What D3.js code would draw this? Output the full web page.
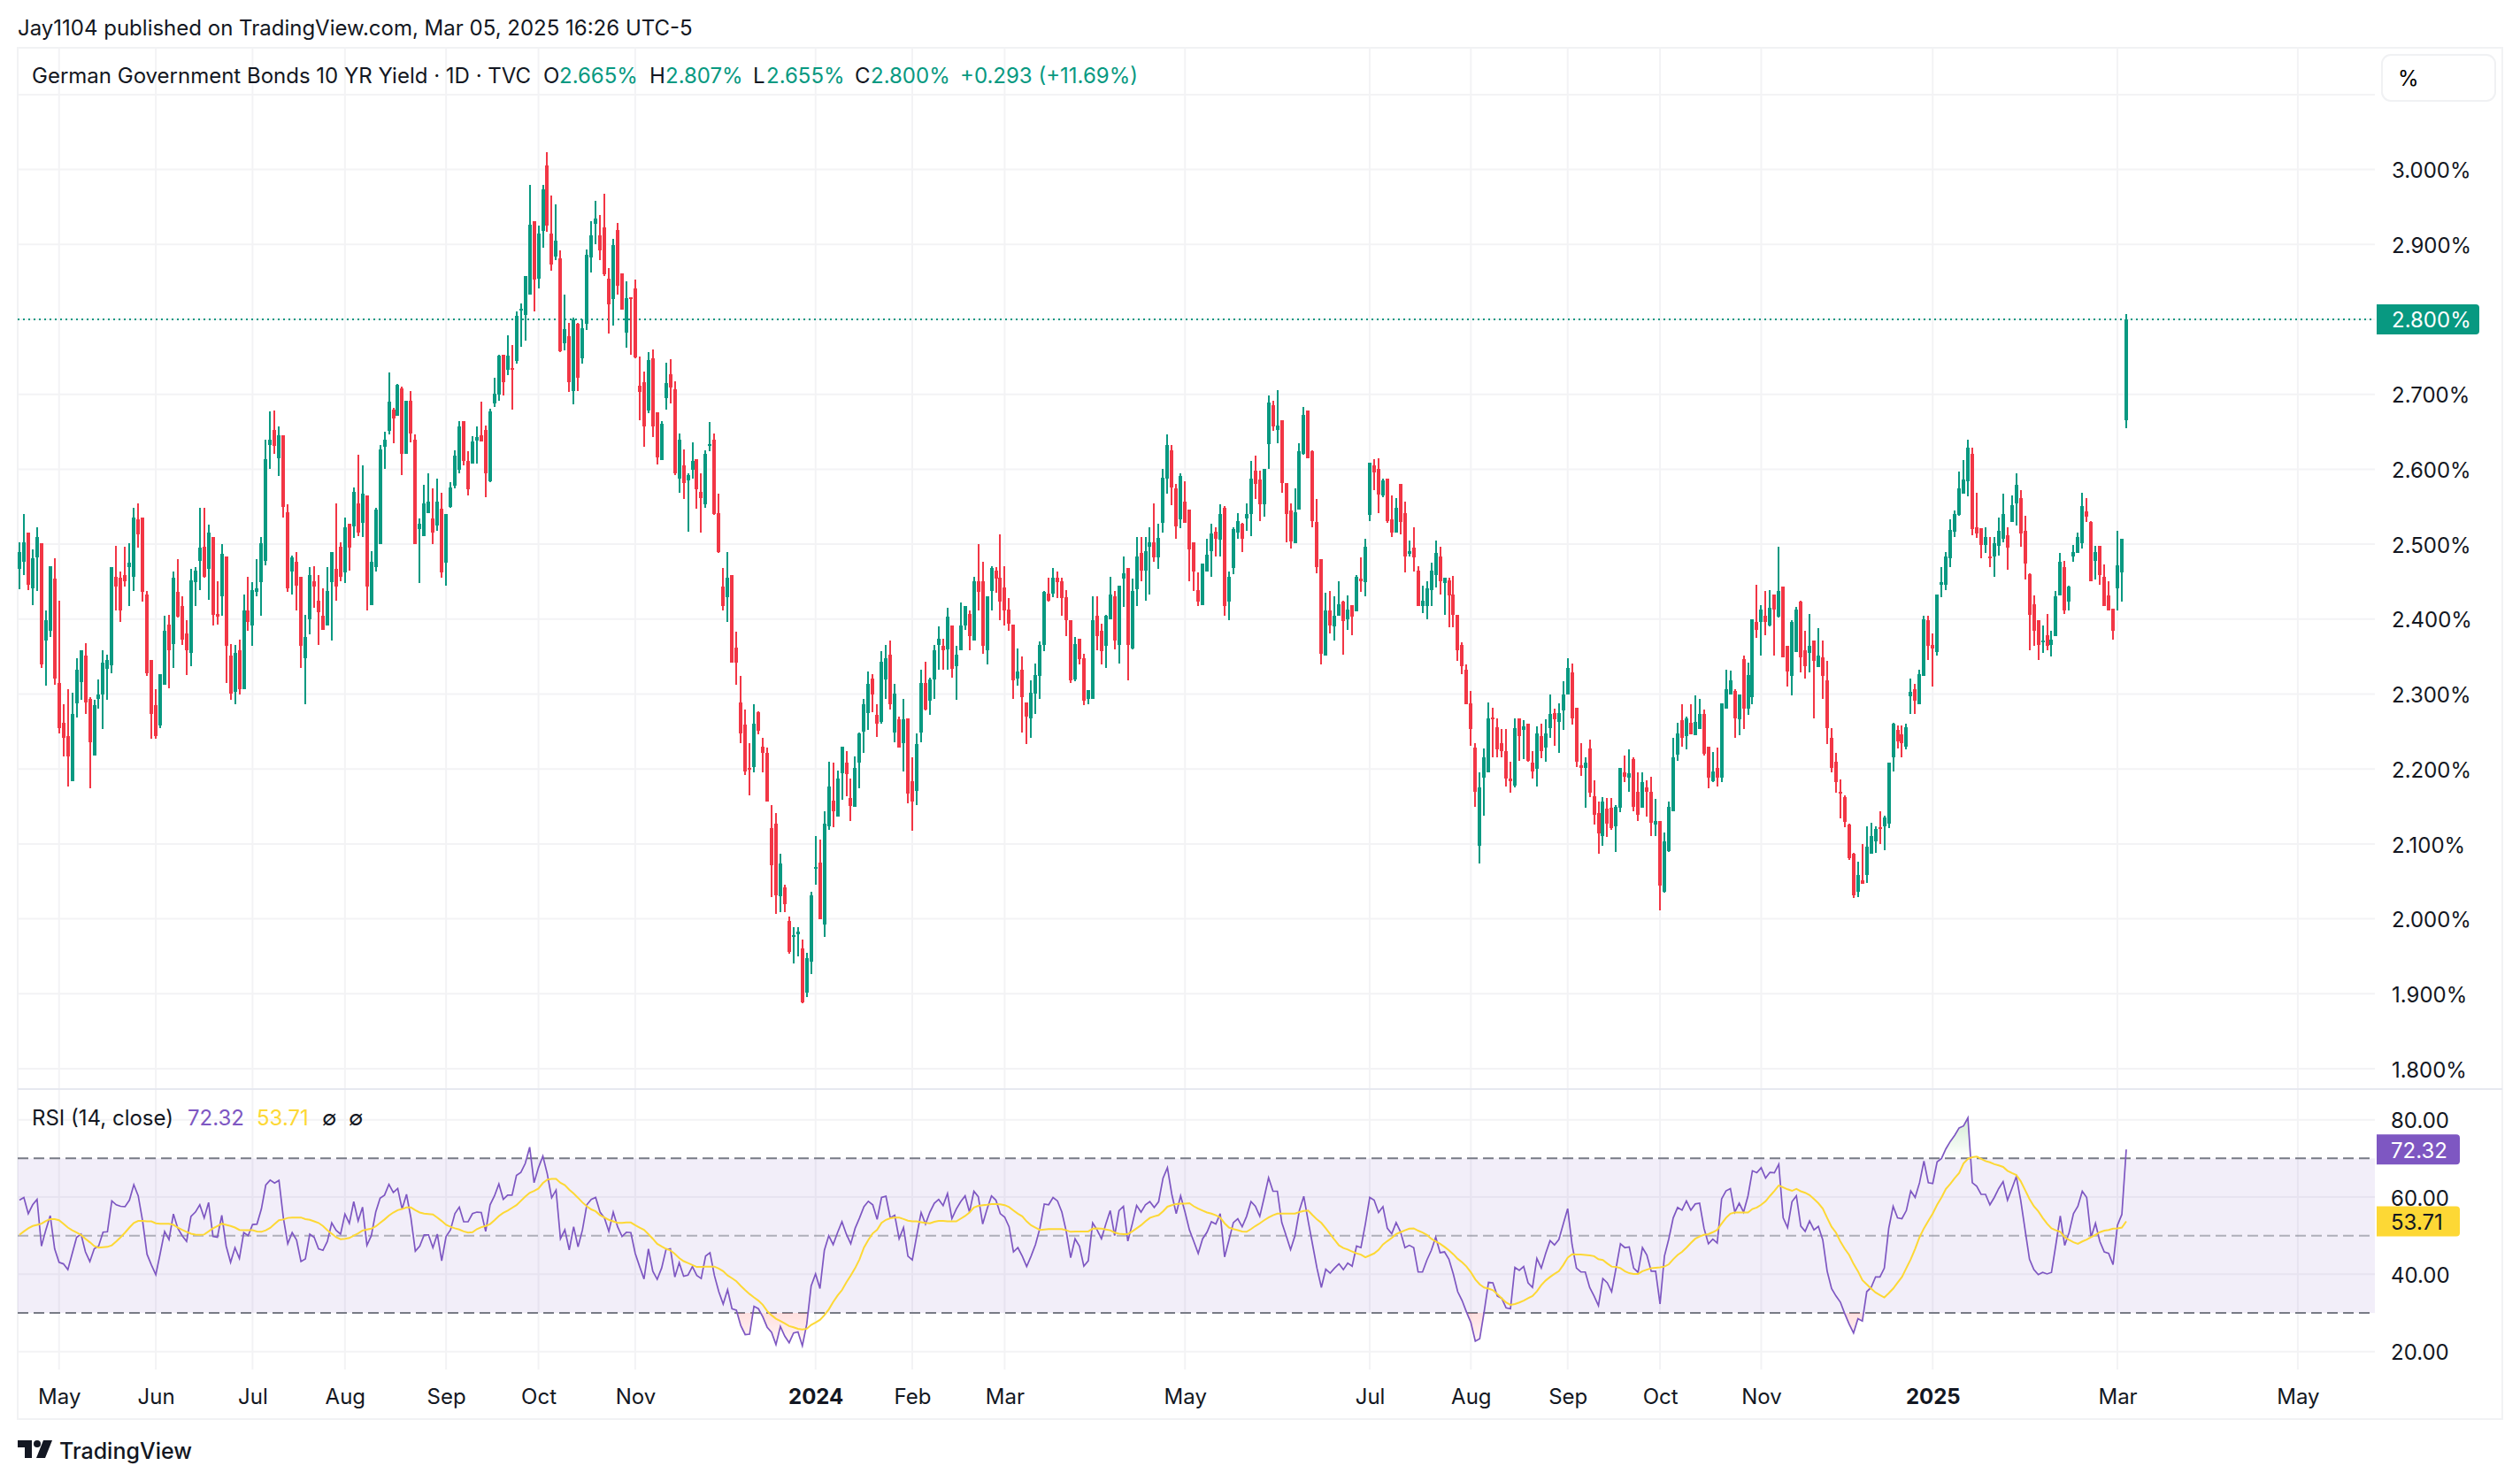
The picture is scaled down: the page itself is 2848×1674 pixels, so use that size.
<!DOCTYPE html>
<html>
<head>
<meta charset="utf-8">
<script src="https://cdn.jsdelivr.net/npm/d3@7"></script>
<style>
  html, body { margin: 0; padding: 0; background: #fff; }
  text { font-family: Inter, "Noto Sans", sans-serif; }
</style>
</head>
<body>
<div id="chart"></div>
<script>
// Datos
// =======================
var opens = [
2.467,2.477,2.515,2.441,2.482,2.501,2.371,2.384,2.454,2.315,
2.262,2.244,2.184,2.288,2.316,2.351,2.294,2.218,2.293,2.300,
2.334,2.338,2.457,2.455,2.459,2.469,2.457,2.533,2.535,2.433,
2.346,2.285,2.258,2.312,2.393,2.367,2.436,2.417,2.381,2.355,
2.449,2.478,2.497,2.467,2.509,2.407,2.430,2.483,2.351,2.303,
2.359,2.307,2.412,2.391,2.436,2.449,2.478,2.632,2.653,2.615,
2.645,2.543,2.463,2.477,2.456,2.348,2.400,2.450,2.425,2.404,
2.392,2.449,2.467,2.496,2.462,2.527,2.524,2.555,2.528,2.565,
2.419,2.469,2.500,2.630,2.651,2.680,2.671,2.708,2.620,2.691,
2.640,2.520,2.511,2.541,2.534,2.525,2.547,2.475,2.550,2.578,
2.599,2.664,2.611,2.608,2.638,2.645,2.652,2.584,2.688,2.700,
2.753,2.733,2.735,2.744,2.812,2.806,2.833,2.931,2.854,2.918,
3.006,2.915,2.884,2.881,2.768,2.778,2.704,2.794,2.748,2.794,
2.883,2.928,2.912,2.923,2.854,2.827,2.919,2.861,2.782,2.830,
2.841,2.711,2.716,2.678,2.748,2.676,2.612,2.695,2.727,2.707,
2.587,2.605,2.585,2.599,2.613,2.570,2.553,2.631,2.640,2.541,
2.444,2.429,2.459,2.362,2.289,2.259,2.201,2.203,2.276,2.230,
2.222,2.121,2.127,2.030,2.042,1.997,1.976,1.979,1.961,1.902,
1.943,2.067,2.075,1.992,2.124,2.158,2.136,2.194,2.209,2.161,
2.149,2.208,2.250,2.275,2.321,2.272,2.263,2.320,2.352,2.249,
2.266,2.234,2.268,2.184,2.171,2.249,2.315,2.291,2.319,2.365,
2.364,2.360,2.392,2.337,2.358,2.392,2.407,2.372,2.450,2.450,
2.359,2.438,2.465,2.455,2.442,2.413,2.393,2.321,2.332,2.289,
2.267,2.301,2.324,2.365,2.434,2.434,2.455,2.451,2.429,2.399,
2.319,2.374,2.348,2.293,2.293,2.405,2.384,2.364,2.400,2.431,
2.366,2.454,2.468,2.361,2.440,2.488,2.465,2.497,2.502,2.482,
2.529,2.588,2.625,2.574,2.533,2.557,2.546,2.502,2.439,2.419,
2.463,2.491,2.517,2.506,2.549,2.423,2.468,2.515,2.527,2.534,
2.540,2.598,2.586,2.553,2.633,2.686,2.652,2.665,2.581,2.545,
2.501,2.546,2.620,2.678,2.624,2.530,2.480,2.351,2.411,2.390,
2.404,2.423,2.400,2.419,2.410,2.454,2.449,2.539,2.605,2.600,
2.565,2.587,2.533,2.515,2.580,2.542,2.487,2.495,2.465,2.418,
2.418,2.439,2.459,2.484,2.448,2.452,2.433,2.406,2.365,2.333,
2.288,2.229,2.098,2.188,2.196,2.269,2.256,2.235,2.224,2.187,
2.178,2.267,2.252,2.260,2.208,2.200,2.244,2.228,2.255,2.275,
2.263,2.278,2.299,2.329,2.282,2.205,2.202,2.227,2.164,2.141,
2.111,2.147,2.148,2.123,2.148,2.196,2.189,2.213,2.170,2.148,
2.175,2.170,2.126,2.130,2.036,2.090,2.143,2.219,2.265,2.244,
2.262,2.245,2.253,2.274,2.230,2.184,2.202,2.188,2.280,2.299,
2.304,2.266,2.347,2.281,2.296,2.396,2.396,2.405,2.391,2.433,
2.403,2.444,2.364,2.324,2.356,2.423,2.358,2.355,2.371,2.336,
2.349,2.318,2.241,2.210,2.169,2.163,2.126,2.087,2.036,2.052,
2.059,2.087,2.104,2.122,2.123,2.127,2.216,2.252,2.246,2.230,
2.297,2.307,2.287,2.324,2.398,2.366,2.356,2.446,2.446,2.481,
2.517,2.539,2.568,2.584,2.621,2.523,2.521,2.499,2.484,2.483,
2.498,2.507,2.512,2.530,2.554,2.561,2.518,2.460,2.420,2.398,
2.369,2.378,2.366,2.377,2.432,2.470,2.423,2.484,2.488,2.501,
2.544,2.530,2.478,2.498,2.456,2.432,2.414,2.441,2.462,2.665];

var closes = [
2.489,2.502,2.446,2.481,2.509,2.340,2.398,2.471,2.321,2.254,
2.242,2.217,2.274,2.333,2.358,2.289,2.236,2.285,2.300,2.342,
2.346,2.470,2.443,2.411,2.451,2.475,2.536,2.513,2.436,2.328,
2.273,2.244,2.327,2.385,2.358,2.455,2.403,2.373,2.358,2.452,
2.465,2.495,2.456,2.516,2.406,2.403,2.487,2.364,2.301,2.355,
2.306,2.412,2.396,2.439,2.441,2.501,2.613,2.640,2.631,2.645,
2.550,2.441,2.482,2.445,2.364,2.376,2.459,2.443,2.409,2.386,
2.437,2.490,2.443,2.456,2.522,2.495,2.570,2.516,2.567,2.443,
2.476,2.546,2.627,2.639,2.690,2.668,2.713,2.620,2.691,2.648,
2.500,2.527,2.555,2.557,2.515,2.557,2.462,2.540,2.576,2.618,
2.657,2.611,2.573,2.637,2.643,2.637,2.594,2.677,2.701,2.752,
2.716,2.752,2.733,2.805,2.814,2.858,2.926,2.853,2.915,2.974,
2.925,2.873,2.905,2.757,2.787,2.716,2.800,2.722,2.788,2.886,
2.912,2.935,2.892,2.860,2.820,2.899,2.845,2.813,2.828,2.827,
2.749,2.703,2.657,2.746,2.657,2.616,2.661,2.715,2.709,2.594,
2.639,2.581,2.592,2.611,2.573,2.561,2.620,2.633,2.540,2.489,
2.417,2.455,2.342,2.342,2.247,2.197,2.199,2.261,2.251,2.222,
2.157,2.071,2.031,2.074,2.020,1.956,1.978,1.983,1.889,1.947,
2.031,2.069,1.999,2.127,2.177,2.143,2.187,2.230,2.193,2.151,
2.201,2.248,2.287,2.313,2.300,2.260,2.343,2.348,2.286,2.301,
2.228,2.266,2.167,2.156,2.233,2.315,2.279,2.320,2.359,2.374,
2.358,2.403,2.334,2.353,2.392,2.417,2.377,2.450,2.436,2.364,
2.431,2.468,2.454,2.423,2.412,2.394,2.318,2.330,2.296,2.270,
2.302,2.325,2.366,2.436,2.424,2.455,2.449,2.428,2.399,2.318,
2.367,2.347,2.291,2.305,2.398,2.377,2.357,2.405,2.433,2.371,
2.445,2.461,2.366,2.437,2.484,2.465,2.491,2.502,2.482,2.508,
2.589,2.632,2.576,2.524,2.591,2.529,2.493,2.463,2.423,2.474,
2.486,2.514,2.507,2.540,2.417,2.456,2.520,2.531,2.507,2.540,
2.588,2.580,2.553,2.600,2.689,2.657,2.658,2.582,2.540,2.504,
2.543,2.624,2.673,2.615,2.531,2.469,2.354,2.411,2.392,2.404,
2.420,2.397,2.413,2.403,2.457,2.451,2.497,2.609,2.596,2.566,
2.585,2.531,2.516,2.548,2.530,2.483,2.491,2.482,2.417,2.424,
2.441,2.465,2.488,2.451,2.455,2.432,2.406,2.358,2.337,2.287,
2.253,2.169,2.175,2.216,2.268,2.267,2.226,2.224,2.187,2.184,
2.254,2.244,2.257,2.211,2.197,2.248,2.224,2.248,2.274,2.266,
2.275,2.300,2.335,2.268,2.210,2.202,2.208,2.168,2.139,2.114,
2.156,2.127,2.121,2.149,2.202,2.190,2.194,2.149,2.139,2.183,
2.170,2.128,2.131,2.044,2.104,2.149,2.215,2.247,2.241,2.267,
2.246,2.263,2.274,2.220,2.188,2.197,2.188,2.288,2.307,2.318,
2.268,2.300,2.281,2.325,2.400,2.386,2.413,2.396,2.415,2.413,
2.438,2.349,2.330,2.396,2.413,2.349,2.337,2.364,2.344,2.351,
2.324,2.254,2.201,2.182,2.168,2.129,2.081,2.031,2.058,2.047,
2.096,2.110,2.120,2.121,2.135,2.208,2.261,2.237,2.235,2.256,
2.303,2.291,2.327,2.400,2.364,2.361,2.433,2.449,2.483,2.519,
2.540,2.575,2.586,2.629,2.520,2.514,2.499,2.509,2.482,2.501,
2.518,2.540,2.495,2.552,2.579,2.514,2.474,2.406,2.385,2.365,
2.372,2.364,2.373,2.431,2.476,2.412,2.443,2.489,2.509,2.551,
2.537,2.450,2.489,2.459,2.417,2.412,2.385,2.472,2.507,2.800];

var highs = [
2.502,2.540,2.515,2.493,2.522,2.501,2.412,2.471,2.481,2.424,
2.287,2.306,2.302,2.348,2.358,2.368,2.296,2.292,2.320,2.358,
2.353,2.470,2.498,2.464,2.496,2.501,2.548,2.555,2.535,2.438,
2.346,2.306,2.327,2.404,2.406,2.464,2.480,2.431,2.398,2.467,
2.470,2.548,2.548,2.526,2.509,2.451,2.500,2.483,2.367,2.365,
2.373,2.433,2.456,2.449,2.480,2.510,2.640,2.677,2.678,2.657,
2.645,2.553,2.485,2.489,2.456,2.406,2.470,2.471,2.459,2.441,
2.470,2.490,2.554,2.502,2.536,2.527,2.576,2.619,2.605,2.565,
2.491,2.548,2.632,2.650,2.729,2.682,2.714,2.710,2.691,2.704,
2.647,2.534,2.579,2.594,2.575,2.587,2.569,2.540,2.583,2.625,
2.664,2.664,2.624,2.644,2.657,2.690,2.658,2.681,2.722,2.753,
2.753,2.779,2.766,2.811,2.821,2.858,2.980,2.931,2.925,2.980,
3.023,2.965,2.954,2.892,2.833,2.795,2.802,2.795,2.800,2.893,
2.931,2.958,2.939,2.968,2.869,2.907,2.929,2.861,2.851,2.830,
2.853,2.750,2.730,2.756,2.760,2.676,2.664,2.742,2.747,2.717,
2.648,2.627,2.594,2.636,2.613,2.595,2.625,2.663,2.648,2.567,
2.468,2.489,2.459,2.383,2.324,2.279,2.235,2.286,2.277,2.242,
2.228,2.152,2.141,2.087,2.045,2.003,1.989,1.989,1.972,1.955,
2.036,2.110,2.106,2.143,2.210,2.208,2.198,2.230,2.224,2.187,
2.217,2.249,2.293,2.330,2.326,2.286,2.357,2.365,2.371,2.313,
2.270,2.293,2.268,2.216,2.247,2.333,2.343,2.322,2.365,2.390,
2.374,2.415,2.392,2.364,2.422,2.417,2.412,2.457,2.500,2.477,
2.431,2.471,2.469,2.513,2.471,2.428,2.393,2.361,2.350,2.289,
2.318,2.341,2.370,2.437,2.455,2.468,2.464,2.455,2.439,2.399,
2.376,2.374,2.354,2.305,2.431,2.430,2.394,2.406,2.457,2.437,
2.445,2.483,2.468,2.454,2.510,2.509,2.510,2.522,2.554,2.527,
2.600,2.646,2.632,2.580,2.595,2.584,2.546,2.502,2.462,2.474,
2.507,2.527,2.523,2.553,2.551,2.463,2.522,2.541,2.529,2.555,
2.611,2.618,2.598,2.600,2.698,2.691,2.706,2.665,2.581,2.554,
2.574,2.635,2.683,2.678,2.625,2.560,2.480,2.435,2.437,2.430,
2.451,2.424,2.432,2.419,2.459,2.482,2.507,2.609,2.613,2.615,
2.587,2.587,2.565,2.561,2.580,2.557,2.505,2.522,2.471,2.445,
2.450,2.475,2.505,2.496,2.455,2.455,2.458,2.406,2.369,2.339,
2.304,2.235,2.196,2.227,2.289,2.282,2.268,2.253,2.253,2.210,
2.267,2.267,2.265,2.260,2.224,2.257,2.261,2.266,2.300,2.281,
2.288,2.317,2.348,2.341,2.282,2.235,2.216,2.239,2.185,2.157,
2.163,2.161,2.161,2.152,2.202,2.218,2.226,2.216,2.196,2.195,
2.185,2.190,2.160,2.131,2.115,2.157,2.241,2.262,2.287,2.270,
2.287,2.298,2.293,2.279,2.230,2.223,2.229,2.288,2.333,2.331,
2.307,2.300,2.351,2.342,2.400,2.446,2.419,2.437,2.439,2.433,
2.497,2.444,2.364,2.398,2.416,2.424,2.384,2.407,2.371,2.388,
2.372,2.344,2.255,2.221,2.186,2.165,2.127,2.088,2.076,2.100,
2.123,2.128,2.124,2.143,2.138,2.209,2.262,2.258,2.258,2.261,
2.321,2.314,2.332,2.404,2.404,2.381,2.433,2.469,2.489,2.533,
2.545,2.597,2.612,2.639,2.629,2.569,2.521,2.523,2.509,2.509,
2.536,2.567,2.523,2.565,2.594,2.572,2.538,2.461,2.432,2.398,
2.392,2.407,2.385,2.437,2.488,2.478,2.445,2.499,2.516,2.569,
2.561,2.531,2.498,2.498,2.473,2.451,2.414,2.518,2.507,2.807];

var lows = [
2.440,2.459,2.439,2.419,2.437,2.335,2.311,2.376,2.312,2.248,
2.217,2.177,2.184,2.269,2.292,2.274,2.174,2.218,2.281,2.253,
2.292,2.328,2.411,2.396,2.444,2.417,2.437,2.495,2.423,2.324,
2.240,2.240,2.254,2.312,2.308,2.335,2.402,2.366,2.325,2.337,
2.418,2.439,2.455,2.426,2.391,2.393,2.405,2.315,2.292,2.286,
2.300,2.307,2.385,2.364,2.431,2.404,2.472,2.600,2.621,2.591,
2.536,2.436,2.433,2.411,2.335,2.286,2.380,2.415,2.365,2.386,
2.392,2.372,2.425,2.450,2.448,2.465,2.508,2.511,2.510,2.411,
2.419,2.463,2.500,2.600,2.647,2.635,2.671,2.592,2.620,2.636,
2.500,2.448,2.511,2.541,2.500,2.518,2.455,2.445,2.548,2.574,
2.594,2.605,2.565,2.608,2.608,2.637,2.563,2.583,2.683,2.691,
2.698,2.726,2.679,2.741,2.763,2.772,2.833,2.811,2.841,2.896,
2.917,2.865,2.879,2.756,2.759,2.703,2.687,2.704,2.741,2.786,
2.863,2.900,2.879,2.858,2.781,2.792,2.833,2.813,2.762,2.753,
2.748,2.665,2.630,2.675,2.643,2.606,2.612,2.680,2.688,2.592,
2.569,2.560,2.517,2.587,2.547,2.515,2.549,2.624,2.539,2.488,
2.411,2.396,2.342,2.312,2.235,2.192,2.165,2.195,2.246,2.195,
2.157,2.029,2.007,2.009,2.009,1.954,1.940,1.950,1.887,1.896,
1.926,2.045,1.999,1.976,2.119,2.122,2.136,2.159,2.164,2.131,
2.149,2.174,2.222,2.252,2.276,2.243,2.261,2.294,2.279,2.236,
2.228,2.197,2.154,2.118,2.152,2.236,2.278,2.272,2.294,2.333,
2.333,2.333,2.322,2.292,2.358,2.386,2.359,2.372,2.411,2.354,
2.340,2.411,2.435,2.399,2.391,2.385,2.293,2.311,2.249,2.233,
2.241,2.274,2.294,2.357,2.423,2.429,2.428,2.404,2.377,2.315,
2.317,2.339,2.285,2.287,2.293,2.359,2.339,2.335,2.400,2.360,
2.341,2.416,2.318,2.360,2.418,2.450,2.424,2.433,2.476,2.467,
2.516,2.567,2.552,2.507,2.521,2.529,2.450,2.438,2.417,2.419,
2.463,2.457,2.483,2.483,2.404,2.398,2.460,2.507,2.489,2.518,
2.511,2.560,2.531,2.537,2.600,2.651,2.635,2.569,2.503,2.494,
2.501,2.546,2.619,2.615,2.522,2.461,2.340,2.351,2.381,2.371,
2.404,2.353,2.386,2.378,2.410,2.436,2.431,2.531,2.572,2.542,
2.563,2.528,2.509,2.515,2.513,2.462,2.483,2.463,2.417,2.408,
2.400,2.418,2.442,2.433,2.406,2.389,2.389,2.344,2.327,2.287,
2.231,2.149,2.074,2.138,2.196,2.216,2.216,2.215,2.177,2.168,
2.176,2.211,2.213,2.210,2.187,2.177,2.214,2.210,2.242,2.231,
2.222,2.252,2.299,2.259,2.203,2.191,2.148,2.163,2.126,2.087,
2.098,2.109,2.119,2.089,2.142,2.182,2.170,2.143,2.130,2.148,
2.137,2.110,2.111,2.011,2.035,2.089,2.143,2.211,2.230,2.226,
2.246,2.245,2.253,2.218,2.174,2.183,2.177,2.183,2.280,2.299,
2.241,2.245,2.253,2.272,2.286,2.375,2.351,2.378,2.390,2.351,
2.402,2.349,2.310,2.298,2.356,2.329,2.321,2.329,2.268,2.336,
2.293,2.233,2.196,2.168,2.134,2.122,2.079,2.028,2.029,2.047,
2.048,2.087,2.088,2.100,2.092,2.121,2.197,2.227,2.216,2.226,
2.273,2.273,2.286,2.324,2.345,2.310,2.351,2.429,2.439,2.469,
2.509,2.538,2.568,2.564,2.512,2.508,2.481,2.488,2.470,2.457,
2.485,2.502,2.466,2.530,2.525,2.496,2.453,2.359,2.364,2.345,
2.355,2.358,2.350,2.377,2.432,2.407,2.412,2.476,2.488,2.494,
2.530,2.450,2.453,2.446,2.417,2.411,2.373,2.411,2.423,2.655];

var rsi = [
59.2,59.9,55.7,58,59.4,47.3,51.5,55.2,46.6,43.1,
42.7,41.2,45.4,49.6,50.4,45.8,43.3,46.6,47.3,50.9,
51,59,58,57.6,57.5,59.2,63.2,60.3,53.8,45.2,
42.4,39.9,45.4,51.1,49,55.6,51.9,50,48.5,55,
56.1,58,54.6,58.6,49.8,49.6,55.3,47.3,43.1,46.9,
44.1,50.8,50,52.9,53,56.9,63.1,64.4,63.6,64.3,
54.6,47.9,50.8,48.9,43.3,44,50.4,49.6,46.6,46.2,
48.5,53.3,51.4,50.4,55.6,53.2,58.8,53.8,57.4,47.5,
50,56.1,59.7,60.5,63.3,61.2,62.2,56.9,60.7,54.6,
46,47.3,50.2,50.2,46.9,50.4,43.5,49.8,51.5,55.7,
57.4,53.6,53.6,55.7,56.1,56,51.1,58,60.3,63.4,
59.4,60.5,60.5,65.6,66.4,68.7,72.9,63.7,67.6,70.6,
66,59.8,61.8,49.2,51.5,46.3,52.3,47.1,51.5,58,
59.4,59.9,56.1,54.6,51.1,56.1,52.3,49.8,50.9,50.8,
45.4,42,38.8,46.6,40.8,38.7,41.6,46.4,46.6,39.3,
43,39.5,39.8,42,39.7,38.9,44.7,45.6,39.7,35.5,
32.3,36,31.1,30.7,26.7,24.4,24.5,31.7,31.1,29,
26.3,25,21.8,26.5,24,22.3,24.8,25.1,21.5,27.1,
37,40.1,36.3,46.2,50,47.7,50.8,53.6,50.4,47.9,
51.9,54.6,57.5,58.9,58,54.2,59.9,60.2,54.6,55.3,
49.2,52.1,44.7,43.7,50,56,53,56.1,58.4,59.4,
57.8,60.9,54.4,56.9,58.8,60.3,56.1,61.5,60.1,53,
56.9,60.3,59.2,55.7,54.8,52.3,45.8,46.9,44.7,42,
44.7,47.7,51.9,58.2,58,59.9,59,56.1,51.1,44.3,
49.2,47.3,42.1,43.5,53.3,51.5,49.2,53,56.5,50,
56.5,57.6,48.6,53,57.8,56.1,58,58.8,57.3,58.8,
64.9,67.6,60.7,55.7,60.3,56.1,51.5,48.5,45.4,49.2,
50.9,53.6,53,55.7,44.5,48.9,53.4,54.4,52.3,55,
58.8,57.6,55,59.9,65,61.5,61.5,53.4,50,46.4,
50,56.5,60.2,53.8,47.7,41.6,36.6,41.3,40.3,41.6,
42.7,41.2,42.9,42.1,47.3,46.9,53,59.9,59.2,56,
57.5,51.9,50.5,53.4,51,46.9,47.5,46.9,40.6,40.6,
43.7,46.2,49.6,45.6,45.8,43.9,40.1,35.5,33.2,30.2,
27.5,22.7,23.3,30.2,37.9,37.8,34.4,33.8,31.3,31.1,
41.8,41,42,37.8,36.6,44.1,41.6,45.4,48.7,47.6,
49,53,57,47.7,41.6,40.6,40.6,36.6,34.4,31.9,
38.9,37.8,35.5,41.6,47.9,46.9,47.1,41.6,40.5,46.9,
45,40.8,40.8,32.3,44.7,49.2,54.6,57.3,56.6,59,
56.6,58.2,58.4,51.9,47.9,49.1,48.1,59.5,61.6,62.2,
56.1,58.4,56.1,60.3,66.8,66.3,67.6,64.9,66.4,66.3,
68.5,54.6,52.1,58.8,60.3,52.5,51.1,53.8,51.5,52.4,
48.9,40.8,36.3,34.4,32.8,29.8,27.1,24.8,28.5,27.9,
35.5,36.6,39.3,39.3,41.6,51.9,57.6,54.6,54.4,56.5,
61.6,59.9,63.7,69.3,63.7,63.5,69.1,70,72.5,74.4,
76,77.9,78.4,80.5,63.7,62.8,60.7,60.7,58,59.9,
62.2,64,59.2,62.2,65.3,59.2,51.5,43.9,41.2,39.9,
40.5,40.1,40.5,47.7,55.1,47.5,50.8,55.7,57.6,61.5,
59.9,49.6,53.2,48.5,45.8,45.4,42.5,52.7,55.5,72.32];

var rsiMa = [
50.2,51.1,51.9,52.5,52.8,53.1,53.8,54.3,54.3,54,
53.1,52.1,51.4,50.8,50.2,49.2,48.3,47.3,46.9,47,
47.1,47.5,48.5,49.6,50.8,52.1,53.3,53.8,53.8,53.7,
53.7,53.2,53.1,53.1,53.1,52.8,52.1,51.5,51,50.5,
50.3,50.2,50.3,51.1,51.9,52.5,53.1,52.8,52.5,52.1,
51.5,51.4,51.4,51.4,51.1,51,51.4,52,53,54,
54.2,54.6,54.7,54.7,54.7,54.3,54.1,53.7,53.3,52.5,
51.4,50.5,49.6,49.1,49.2,49.4,50,50.6,51.3,51.6,
51.8,52.4,53.3,54.2,55.2,56,56.6,56.9,57.3,57.3,
56.6,56,55.7,55.6,55.5,54.7,53.8,52.8,52.3,51.9,
51.6,51.1,50.8,50.9,51.7,52.2,52.5,53,54,55.1,
55.9,56.5,57.2,57.9,59,60.1,61.1,61.6,62.2,63.6,
64.5,64.7,64.7,63.7,63.1,61.9,60.9,59.8,58.6,57.6,
56.8,56.3,55.3,54.7,54.1,53.7,53.3,53.3,53.4,53.4,
52.7,52.1,51.5,50.4,49.2,47.9,47.2,46.6,46.2,45.3,
44.2,43.4,42.9,42.4,41.9,41.9,42,42,42,41.5,
40.8,39.7,39,38.2,37,35.9,34.9,34,33.2,32.1,
30.5,29.4,28.5,27.9,27.3,26.6,26.3,25.9,25.7,25.9,
26.9,27.5,28.2,29.4,30.9,32.8,34.5,35.9,37.9,39.7,
41.6,43.9,46.9,48.9,50.6,51.5,53.3,54.1,54.5,54.7,
54.7,54.3,53.9,53.7,53.7,53.5,53.3,53.2,53.6,53.8,
53.8,53.7,53.7,53.7,54.4,55.1,56,57.3,57.7,57.9,
58,58.2,58.2,58.1,57.9,57.4,56.5,55.7,55,53.7,
52.7,52.1,51.5,51.6,51.7,51.7,51.7,51.7,51.4,51,
51.1,51.1,51.1,51.1,51.8,51.9,51.8,51.6,51.4,50.8,
50.5,50.4,50.4,51.1,51.9,52.7,53.7,54.6,55,55.3,
56.3,57.5,57.9,58.2,58.3,58.3,58.4,57.6,57,56.5,
56,55.7,55.3,54.7,53.2,52.1,51.7,51.4,51.1,51,
51.7,52.5,53.2,54,54.7,55.3,55.7,55.7,55.7,55.7,
55.7,56.1,56.4,56.5,55.3,54.2,53.3,51.9,50.4,48.9,
47.5,46.8,46.4,45.9,45.4,45.1,44.4,44.9,45.4,46.3,
47.7,48.6,49.4,50.4,50.9,51.4,51.8,51.9,51.3,50.8,
50.2,49.2,48.5,47.9,47.1,46.2,45.2,44,43.1,42,
40.5,38.7,37.4,36.6,36.3,35.9,34.9,33.8,32.7,32.1,
32.3,32.7,33.2,33.8,34.4,35.6,37.2,38.4,39.3,40.1,
40.8,42.4,44.3,45.2,45.1,45.1,45,44.9,44.7,43.9,
43.7,42.8,42,41.9,41.6,40.8,40.3,40.1,40.1,40.8,
41.2,41.6,41.7,41.8,42,42.6,43.9,45,45.8,46.9,
48.1,49.2,49.8,50.2,50.4,50.9,51.5,53.1,54.6,55.7,
56,56,56,56,56.9,57.3,58,58.9,60.3,61.6,
63,62.5,62,61.6,62.1,61.5,61.1,60.5,59.5,58.4,
57,54.6,52.3,50.8,48.5,46.6,45,42.7,40.8,38.5,
37.4,36.3,35.3,34.6,34,35.1,36.3,37.8,39.3,41.6,
43.9,46.6,49.6,51.9,53.8,55.7,58,59.9,62.1,63.4,
64.9,66.2,68.7,69.9,70.3,70.5,69.9,69.3,69,68.5,
68.2,67.8,66.8,66.2,65.7,64.1,61.8,59.5,57.6,56.3,
54.6,53.1,51.9,51.4,51,49.6,48.9,48.3,47.9,48.5,
49,49.6,50.2,50.9,51.3,51.5,51.8,51.9,52.1,53.71];

var tickIdx = [9,31,53,74,97,118,140,181,203,224,265,307,330,352,373,396,435,477,518];
var tickNames = ["May","Jun","Jul","Aug","Sep","Oct","Nov","2024","Feb","Mar","May","Jul","Aug","Sep","Oct","Nov","2025","Mar","May"];
var priceGrid = [1.8,1.9,2.0,2.1,2.2,2.3,2.4,2.5,2.6,2.7,2.8,2.9,3.0,3.1];
var priceTicks = [1.8,1.9,2.0,2.1,2.2,2.3,2.4,2.5,2.6,2.7,2.9,3.0];
var rsiTicks = [20,40,60,80];
var rsiLevels = [70,50,30];
var lastPrice = 2.8;
var lastRsi = 72.32;
var lastMa = 53.71;

// Dimensiones
// ===========
var width = 2848, height = 1674;
var paneL = 20, paneR = 2684, frameR = 2828, frameT = 54, frameB = 1604, sep = 1231, rsiB = 1548;
var up = "#089981", down = "#f23645", purple = "#7e57c2", yellow = "#fdd835", ink = "#131722", grid = "#f3f3f5";

var svg = d3.select("#chart").append("svg")
  .attr("width", width)
  .attr("height", height)
  .style("display", "block");

var x = d3.scaleLinear().domain([0, closes.length - 1]).range([22, 2403]);
var y = d3.scaleLinear().domain([1.8, 3.0]).range([1208, 191.6]);
var yR = d3.scaleLinear().domain([20, 80]).range([1527.7, 1265.7]);

// Rejilla
// =======
svg.append("g").selectAll("line").data(tickIdx).join("line")
  .attr("x1", function(d) { return x(d); }).attr("x2", function(d) { return x(d); })
  .attr("y1", frameT).attr("y2", rsiB)
  .attr("stroke", grid).attr("stroke-width", 2);

svg.append("g").selectAll("line").data(priceGrid).join("line")
  .attr("x1", paneL).attr("x2", paneR)
  .attr("y1", function(d) { return y(d); }).attr("y2", function(d) { return y(d); })
  .attr("stroke", grid).attr("stroke-width", 2);

svg.append("g").selectAll("line").data(rsiTicks).join("line")
  .attr("x1", paneL).attr("x2", paneR)
  .attr("y1", function(d) { return yR(d); }).attr("y2", function(d) { return yR(d); })
  .attr("stroke", grid).attr("stroke-width", 2);

// Marco
svg.append("path")
  .attr("d", "M" + paneL + "," + frameB + "V" + frameT + "H" + frameR + "V" + frameB + "Z")
  .attr("fill", "none").attr("stroke", "#f1f2f4").attr("stroke-width", 2);
svg.append("line")
  .attr("x1", paneL).attr("x2", frameR).attr("y1", sep).attr("y2", sep)
  .attr("stroke", "#e6e8f0").attr("stroke-width", 2);

// Linea del ultimo precio
svg.append("line")
  .attr("x1", paneL).attr("x2", paneR)
  .attr("y1", y(lastPrice)).attr("y2", y(lastPrice))
  .attr("stroke", up).attr("stroke-width", 2).attr("stroke-dasharray", "2 4");

// Velas
// =====
var candles = svg.append("g").attr("shape-rendering", "crispEdges")
  .selectAll("g").data(closes).join("g")
  .attr("fill", function(d, i) { return d >= opens[i] ? up : down; });

candles.append("rect")
  .attr("x", function(d, i) { return Math.round(x(i)) - 1; })
  .attr("width", 2)
  .attr("y", function(d, i) { return y(highs[i]); })
  .attr("height", function(d, i) { return y(lows[i]) - y(highs[i]); });

candles.append("rect")
  .attr("x", function(d, i) { return Math.round(x(i)) - 2; })
  .attr("width", 4)
  .attr("y", function(d, i) { return y(Math.max(opens[i], d)); })
  .attr("height", function(d, i) { return Math.max(2, Math.abs(y(opens[i]) - y(d))); });

// RSI
// ===
var defs = svg.append("defs");
var gUp = defs.append("linearGradient").attr("id", "obFill").attr("gradientUnits", "userSpaceOnUse")
  .attr("x1", 0).attr("x2", 0).attr("y1", yR(82)).attr("y2", yR(70));
gUp.append("stop").attr("offset", 0).attr("stop-color", "#4caf50").attr("stop-opacity", 0.28);
gUp.append("stop").attr("offset", 1).attr("stop-color", "#4caf50").attr("stop-opacity", 0);
var gDown = defs.append("linearGradient").attr("id", "osFill").attr("gradientUnits", "userSpaceOnUse")
  .attr("x1", 0).attr("x2", 0).attr("y1", yR(30)).attr("y2", yR(20));
gDown.append("stop").attr("offset", 0).attr("stop-color", "#ff5252").attr("stop-opacity", 0.18);
gDown.append("stop").attr("offset", 1).attr("stop-color", "#ff5252").attr("stop-opacity", 0.02);
defs.append("clipPath").attr("id", "clipOb").append("rect")
  .attr("x", paneL).attr("width", paneR - paneL).attr("y", sep).attr("height", yR(70) - sep);
defs.append("clipPath").attr("id", "clipOs").append("rect")
  .attr("x", paneL).attr("width", paneR - paneL).attr("y", yR(30)).attr("height", rsiB - yR(30));

svg.append("rect")
  .attr("x", paneL).attr("width", paneR - paneL)
  .attr("y", yR(70)).attr("height", yR(30) - yR(70))
  .attr("fill", purple).attr("fill-opacity", 0.1);

svg.append("g").selectAll("line").data(rsiLevels).join("line")
  .attr("x1", paneL).attr("x2", paneR)
  .attr("y1", function(d) { return yR(d); }).attr("y2", function(d) { return yR(d); })
  .attr("stroke", "#787b86").attr("stroke-width", 2)
  .attr("stroke-opacity", function(d) { return d == 50 ? 0.55 : 1; })
  .attr("stroke-dasharray", "12 6");

svg.append("path").datum(rsi)
  .attr("clip-path", "url(#clipOb)").attr("fill", "url(#obFill)")
  .attr("d", d3.area().x(function(d, i) { return x(i); }).y0(yR(70)).y1(function(d) { return yR(d); }));
svg.append("path").datum(rsi)
  .attr("clip-path", "url(#clipOs)").attr("fill", "url(#osFill)")
  .attr("d", d3.area().x(function(d, i) { return x(i); }).y0(yR(30)).y1(function(d) { return yR(d); }));

var rsiLine = d3.line().x(function(d, i) { return x(i); }).y(function(d) { return yR(d); });
svg.append("path").datum(rsi)
  .attr("fill", "none").attr("stroke", purple).attr("stroke-width", 1.7).attr("d", rsiLine);
svg.append("path").datum(rsiMa)
  .attr("fill", "none").attr("stroke", yellow).attr("stroke-width", 2).attr("d", rsiLine);

// Ejes
// ====
var fs = 24;
function cleanAxis(g) {
  g.select(".domain").remove();
  g.selectAll("text").attr("fill", ink).attr("font-size", fs).attr("font-family", "Inter");
}

svg.append("g").attr("transform", "translate(2703,1.5)")
  .call(d3.axisRight(y).tickValues(priceTicks).tickSize(0).tickPadding(0)
    .tickFormat(function(d) { return d.toFixed(3) + "%"; }))
  .call(cleanAxis);

svg.append("g").attr("transform", "translate(2702,1.5)")
  .call(d3.axisRight(yR).tickValues(rsiTicks).tickSize(0).tickPadding(0)
    .tickFormat(function(d) { return d.toFixed(2); }))
  .call(cleanAxis);

svg.append("g").attr("transform", "translate(0,1570)")
  .call(d3.axisBottom(x).tickValues(tickIdx).tickSize(0).tickPadding(0)
    .tickFormat(function(d) { return tickNames[tickIdx.indexOf(d)]; }))
  .call(cleanAxis)
  .selectAll("text")
  .attr("font-weight", function(d) { return d == 181 || d == 435 ? 700 : 400; });

// Etiquetas de valor
// ==================
function tag(yPos, w, fill, color, label, tx) {
  svg.append("path")
    .attr("d", "M2686," + (yPos - 17) + "H" + (2686 + w - 4) + "a4,4 0 0 1 4,4V" + (yPos + 13) + "a4,4 0 0 1 -4,4H2686Z")
    .attr("fill", fill);
  svg.append("text").attr("x", tx).attr("y", yPos + 1).attr("dy", "0.35em")
    .attr("fill", color).attr("font-size", fs).text(label);
}
tag(y(lastPrice), 116, up, "#fff", "2.800%", 2703);
tag(yR(lastRsi), 94, purple, "#fff", "72.32", 2702);
tag(yR(lastMa), 94, "#fdd835", ink, "53.71", 2702);

svg.append("rect")
  .attr("x", 2692).attr("y", 62).attr("width", 128).attr("height", 52).attr("rx", 10)
  .attr("fill", "#fff").attr("stroke", "#f0f1f3").attr("stroke-width", 2);
svg.append("text").attr("x", 2710).attr("y", 89).attr("dy", "0.35em")
  .attr("font-size", fs).attr("fill", "#000").text("%");

// Leyendas y titulos
// ==================
function label(tx, ty, txt, color, size, weight) {
  svg.append("text").attr("x", tx).attr("y", ty).attr("dy", "0.35em")
    .attr("font-size", size || fs).attr("font-weight", weight || 400)
    .attr("fill", color).text(txt);
}
label(20, 32, "Jay1104 published on TradingView.com, Mar 05, 2025 16:26 UTC-5", ink);
label(36, 86, "German Government Bonds 10 YR Yield · 1D · TVC", ink);
label(614, 86, "O", ink);
label(632, 86, "2.665%", up);
label(734, 86, "H", ink);
label(752, 86, "2.807%", up);
label(851, 86, "L", ink);
label(866, 86, "2.655%", up);
label(966, 86, "C", ink);
label(984, 86, "2.800%", up);
label(1085, 86, "+0.293 (+11.69%)", up);

label(36, 1264, "RSI (14, close)", ink);
label(212, 1264, "72.32", purple);
label(290, 1264, "53.71", yellow);
label(364, 1264, "∅", ink);
label(394, 1264, "∅", ink);

// Logo
var logo = svg.append("g").attr("transform", "translate(20,1628)").attr("fill", ink);
logo.append("path").attr("d", "M0,0H16V20H8V8H0Z");
logo.append("circle").attr("cx", 22).attr("cy", 4).attr("r", 4);
logo.append("path").attr("d", "M29,0H39L31,20H21Z");
label(67, 1640, "TradingView", ink, 25, 500);
</script>
</body>
</html>
